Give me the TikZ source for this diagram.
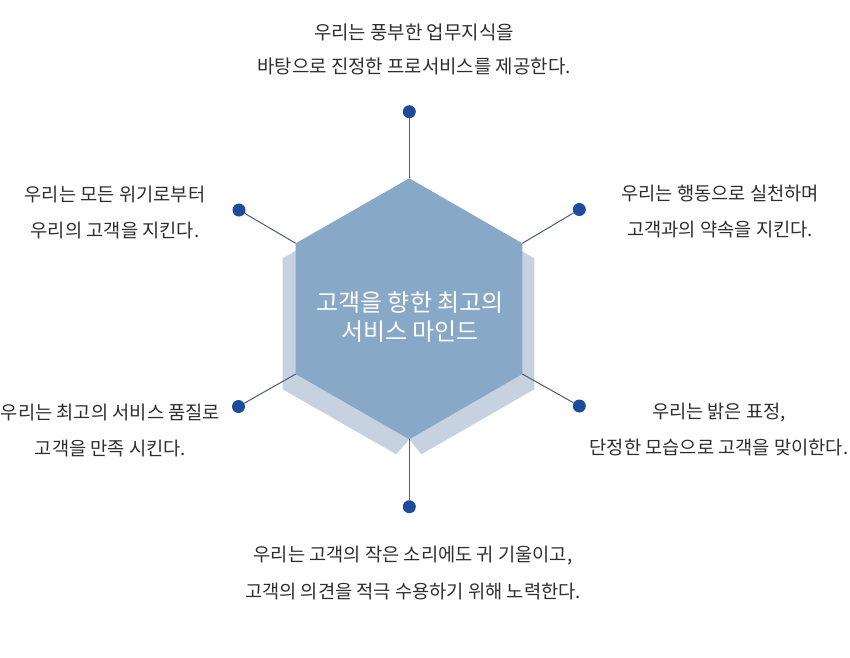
\documentclass[tikz,border=0pt]{standalone}
\usepackage{fontspec}
\setmainfont{Noto Sans CJK KR}
\definecolor{hexfront}{HTML}{88A8C8}
\definecolor{hexback}{HTML}{C6D2E0}
\definecolor{dotblue}{HTML}{1E4B9B}
\definecolor{linegray}{HTML}{4A5A78}
\definecolor{txtgray}{HTML}{2E2E2E}
\begin{document}
\begin{tikzpicture}[x=1pt,y=-1pt,
  dotnode/.style={circle,fill=dotblue,inner sep=0pt,minimum size=13pt},
  conn/.style={draw=linegray,line width=1pt},
  label/.style={align=center,text=txtgray,font=\fontsize{18.7pt}{36pt}\selectfont,inner sep=0pt},
  centertext/.style={align=center,text=white,font=\fontsize{24pt}{29pt}\selectfont,inner sep=0pt}]
\useasboundingbox (0,0) rectangle (850,657);
% hexagon vertices
\coordinate (vt) at (409.3,178.3);
\coordinate (vur) at (522.3,243.3);
\coordinate (vlr) at (522.3,374);
\coordinate (vb) at (409.3,439.3);
\coordinate (vll) at (295.7,374);
\coordinate (vul) at (295.7,243.3);
% shadow
\fill[hexback] (295.7,250.8) -- (282.7,258.3) -- (282.7,389.3) -- (396.3,454.3) -- (409.3,439.3) -- (421.3,454.3) -- (534.3,389.3) -- (534.3,258.3) -- (522.3,251.4) -- (vt) -- cycle;
% front
\fill[hexfront] (vt) -- (vur) -- (vlr) -- (vb) -- (vll) -- (vul) -- cycle;
% dots
\node[dotnode] (dt) at (409.3,111.7) {};
\node[dotnode] (dul) at (239,210) {};
\node[dotnode] (dur) at (579.3,209.5) {};
\node[dotnode] (dll) at (238.5,406.5) {};
\node[dotnode] (dlr) at (579.3,406) {};
\node[dotnode] (db) at (409.3,506.7) {};
% connectors
\draw[conn] (vt) -- (dt);
\draw[conn] (vul) -- (dul);
\draw[conn] (vur) -- (dur);
\draw[conn] (vll) -- (dll);
\draw[conn] (vlr) -- (dlr);
\draw[conn] (vb) -- (db);
% center text
\node[centertext] (ct) at (410,317) {고객을 향한 최고의\\서비스 마인드};
% labels
\node[label,font=\fontsize{18.9pt}{34pt}\selectfont] (lt) at (414,49) {우리는 풍부한 업무지식을\\바탕으로 진정한 프로서비스를 제공한다.};
\node[label] (lul) at (115,212) {우리는 모든 위기로부터\\우리의 고객을 지킨다.};
\node[label] (lur) at (720,211) {우리는 행동으로 실천하며\\고객과의 약속을 지킨다.};
\node[label] (lll) at (110.5,430) {우리는 최고의 서비스 품질로\\고객을 만족 시킨다.};
\node[label] (llr) at (719,429) {우리는 밝은 표정,\\단정한 모습으로 고객을 맞이한다.};
\node[label] (lb) at (413,573) {우리는 고객의 작은 소리에도 귀 기울이고,\\고객의 의견을 적극 수용하기 위해 노력한다.};
\end{tikzpicture}
\end{document}
